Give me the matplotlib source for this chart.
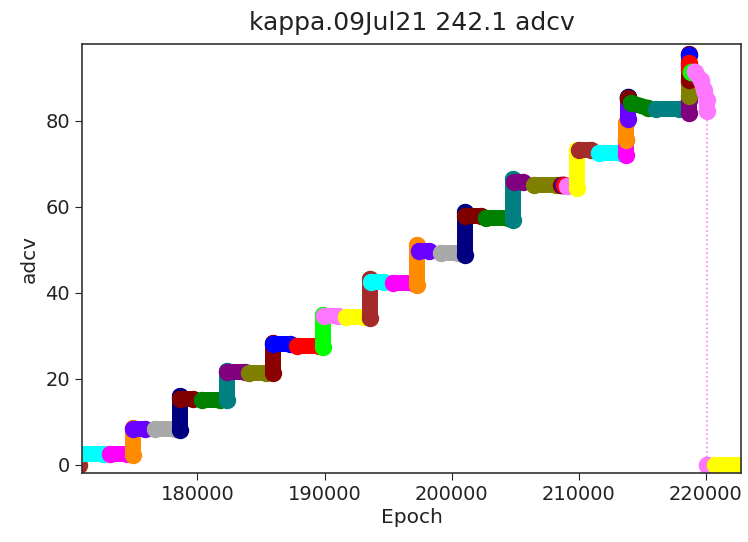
import matplotlib
matplotlib.use("Agg")
import matplotlib.pyplot as plt

PINK = "#ff77ff"

# Each run of dots: colour, epochs, adcv values
seg_colors = [
    "yellow", "brown", "cyan", "magenta", "darkorange", "#6a00ff", "darkgray",
    "navy", "maroon", "green", "teal", "purple", "olive", "#8b0000",
    "blue", "red", "lime", PINK, "yellow", "brown",
    "cyan", "magenta", "darkorange", "#6a00ff", "darkgray",
    "navy", "maroon", "green", "teal", "purple", "olive", "#8b0000",
    "blue", "red", PINK, "yellow", "brown",
    "cyan", "magenta", "darkorange", "#6a00ff", "navy", "maroon",
    "green", "teal", "purple", "olive", "#8b0000", "blue", "red", "lime",
    PINK, PINK, "yellow",
]
seg_epochs = [
    [170500, 170700], [170700, 170700], [170700, 172600], [173150, 174490],
    [174960, 174960], [174960, 175900], [176690, 178270],
    [178660, 178660], [178660, 179690], [180390, 181810], [182360, 182360],
    [182360, 183780], [184020, 185430], [185980, 185980],
    [185980, 187320], [187870, 189530], [189900, 189900], [189920, 191020],
    [191650, 193070], [193570, 193570],
    [193620, 194650], [195350, 196930], [197300, 197300], [197400, 198190],
    [199130, 200470],
    [201020, 201020], [201020, 202280], [202680, 204410], [204800, 204800],
    [204880, 205590], [206460, 208190], [208580, 208580],
    [208740, 208740], [208850, 208850], [209050, 209050], [209840, 209840],
    [210000, 210950],
    [211570, 213300], [213700, 213700], [213700, 213700], [213860, 213860],
    [213860, 213860], [213900, 213900],
    [214090, 215430], [216060, 217870], [218660, 218660], [218660, 218660],
    [218660, 218660], [218660, 218660], [218700, 218700], [218820, 218820],
    [219110, 219600, 219860, 220060, 220080], [220080, 220080],
    [220700, 223000],
]
seg_adcv = [
    [0.0, 0.0], [0.0, 2.6], [2.6, 2.6], [2.5, 2.5],
    [2.4, 8.6], [8.4, 8.4], [8.3, 8.3],
    [8.1, 15.9], [15.2, 15.2], [15.1, 15.1], [15.1, 21.8],
    [21.7, 21.7], [21.4, 21.4], [21.4, 28.3],
    [28.1, 28.1], [27.6, 27.6], [27.5, 34.9], [34.7, 34.7],
    [34.5, 34.5], [34.2, 43.2],
    [42.6, 42.6], [42.3, 42.3], [41.9, 51.2], [49.8, 49.8],
    [49.3, 49.3],
    [48.8, 58.8], [58.0, 58.0], [57.4, 57.4], [57.0, 66.5],
    [65.9, 65.9], [65.1, 65.1], [65.0, 65.0],
    [65.0, 65.0], [65.0, 65.0], [64.9, 64.9], [64.4, 73.3],
    [73.3, 73.3],
    [72.6, 72.6], [72.1, 75.6], [75.6, 79.5], [80.5, 84.9],
    [85.6, 85.6], [85.3, 85.3],
    [84.2, 83.0], [82.8, 82.8], [81.9, 84.9], [85.7, 88.8],
    [89.5, 95.5], [95.3, 93.0], [93.5, 92.0], [91.5, 91.5],
    [91.5, 89.5, 87.2, 84.9, 82.2], [0.0, 0.0],
    [0.0, 0.0],
]
# thin dotted link between the last high reading and the reset
link_epochs = [220080, 220080]
link_adcv = [82.2, 0.0]

title = "kappa.09Jul21 242.1 adcv"
x_label = "Epoch"
y_label = "adcv"

fig = plt.figure(figsize=(7.48, 5.42), dpi=100)
ax = fig.add_axes([0.1096, 0.1273, 0.8810, 0.7915])

ms = 11.5
ax.plot(link_epochs, link_adcv, ":", color=PINK, lw=1.2, zorder=1)
for c, xs, ys in zip(seg_colors, seg_epochs, seg_adcv):
    ax.plot(xs, ys, "-o", color=c, lw=ms, ms=ms, solid_capstyle="round",
            solid_joinstyle="round", zorder=2)

ax.set_xlim(170921, 222756)
ax.set_ylim(-1.9, 97.9)
ax.set_xticks([180000, 190000, 200000, 210000, 220000])
ax.set_yticks([0, 20, 40, 60, 80])

ax.tick_params(labelsize=14, colors="#222222", length=5)
for s in ax.spines.values():
    s.set_color("#333333")
    s.set_linewidth(1.2)

ax.set_title(title, fontsize=18, color="#222222", pad=10)
ax.set_xlabel(x_label, fontsize=14.5, color="#222222", labelpad=3)
ax.set_ylabel(y_label, fontsize=14.5, color="#222222", labelpad=5)

fig.savefig("out.png", dpi=100)
